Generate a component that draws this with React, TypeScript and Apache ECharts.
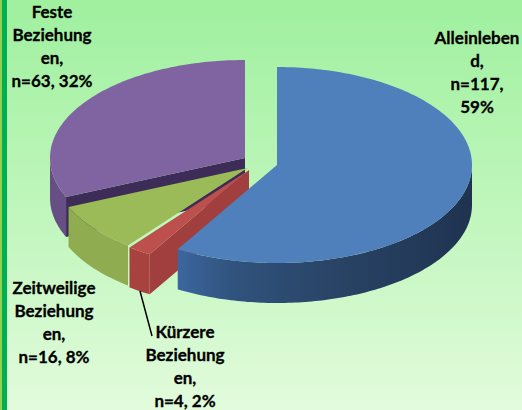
import React, { useEffect, useRef } from "react";
import * as echarts from "echarts";

const categories = ["Alleinlebend", "Kürzere Beziehungen", "Zeitweilige Beziehungen", "Feste Beziehungen"];
const values = [117, 4, 16, 63];
const labelTexts = [
  "Alleinleben\nd,\nn=117,\n59%",
  "Kürzere\nBeziehung\nen,\nn=4, 2%",
  "Zeitweilige\nBeziehung\nen,\nn=16, 8%",
  "Feste\nBeziehung\nen,\nn=63, 32%",
];
const drawOrder = [3, 2, 1, 0];

// Layout and styling, separate from the data
const RX = 195;
const RY = 98;
const DEPTH = 40;
const apexes = [
  [277, 165],
  [249, 170],
  [247.5, 168],
  [245, 158],
];
const labelCentres = [
  [477, 72],
  [185, 366],
  [54, 322],
  [52, 46],
];
const topColours = ["#4f80bb", "#bd4f4c", "#9bbb59", "#8063a1"];
const cutColours = [null, "#a03f3d", null, "#3d2c57"];
const sideColours: any[] = [
  new echarts.graphic.LinearGradient(0, 0, 1, 0, [
    { offset: 0, color: "#3c669e" },
    { offset: 0.2, color: "#30527c" },
    { offset: 0.5, color: "#2a4568" },
    { offset: 1, color: "#1f3350" },
  ]),
  "#a8423f",
  "#8fac51",
  "#674f86",
];

const total = values.reduce((a, b) => a + b, 0);
const rad = (deg: number) => (deg * Math.PI) / 180;

function sliceAngles(index: number): [number, number] {
  let sum = 0;
  for (let i = 0; i < index; i++) sum += values[i];
  return [(sum / total) * 360, ((sum + values[index]) / total) * 360];
}

function rimPoint(apex: number[], deg: number, drop = 0): number[] {
  return [apex[0] + RX * Math.sin(rad(deg)), apex[1] - RY * Math.cos(rad(deg)) + drop];
}

function arcPoints(apex: number[], from: number, to: number, drop = 0): number[][] {
  const pts: number[][] = [];
  const steps = Math.max(2, Math.ceil(Math.abs(to - from)));
  for (let s = 0; s <= steps; s++) pts.push(rimPoint(apex, from + ((to - from) * s) / steps, drop));
  return pts;
}

function renderSlice(params: any) {
  const index = drawOrder[params.dataIndex];
  const apex = apexes[index];
  const [a0, a1] = sliceAngles(index);
  const children: any[] = [];

  const cut = cutColours[index];
  if (cut) {
    const rim = rimPoint(apex, a0);
    children.push({
      type: "polygon",
      shape: { points: [apex, rim, [rim[0], rim[1] + DEPTH], [apex[0], apex[1] + DEPTH]] },
      style: { fill: cut },
    });
  }

  const s0 = Math.max(a0, 90);
  const s1 = Math.min(a1, 270);
  if (s1 > s0) {
    children.push({
      type: "polygon",
      shape: {
        points: [...arcPoints(apex, s0, s1), ...arcPoints(apex, s1, s0, DEPTH)],
      },
      style: { fill: sideColours[index] },
    });
  }

  children.push({
    type: "polygon",
    shape: { points: [apex, ...arcPoints(apex, a0, a1)] },
    style: { fill: topColours[index] },
  });

  return { type: "group", children };
}

export default function App() {
  const ref = useRef<HTMLDivElement>(null);

  useEffect(() => {
    document.body.style.margin = "0";
    const chart = echarts.init(ref.current!, undefined, { renderer: "svg" });
    chart.setOption({
      animation: false,
      backgroundColor: new echarts.graphic.LinearGradient(0, 0, 0, 1, [
        { offset: 0, color: "#9ff09f" },
        { offset: 0.5, color: "#bff6bb" },
        { offset: 1, color: "#e2fbdc" },
      ]),
      series: [
        {
          type: "custom",
          coordinateSystem: "none",
          silent: true,
          renderItem: renderSlice,
          data: drawOrder.map((i) => ({ name: categories[i], value: values[i] })),
        },
      ],
      graphic: [
        { type: "rect", shape: { x: 0, y: 0, width: 2, height: 410 }, style: { fill: "#92d050" } },
        { type: "rect", shape: { x: 2, y: 0, width: 5, height: 410 }, style: { fill: "#00b050" } },
        {
          type: "line",
          shape: { x1: 140, y1: 291, x2: 152, y2: 336 },
          style: { stroke: "#000000", lineWidth: 1.5 },
          z: 10,
        },
        ...labelTexts.map((text, i) => ({
          type: "text",
          x: labelCentres[i][0],
          y: labelCentres[i][1],
          z: 10,
          style: {
            text,
            fill: "#000000",
            font: 'bold 17px Lato, "Open Sans", sans-serif',
            lineHeight: 22.7,
            align: "center",
            verticalAlign: "middle",
            stroke: "#000000",
            lineWidth: 0.3,
          },
        })),
      ],
    });
    return () => chart.dispose();
  }, []);

  return <div ref={ref} style={{ width: 522, height: 410 }} />;
}
